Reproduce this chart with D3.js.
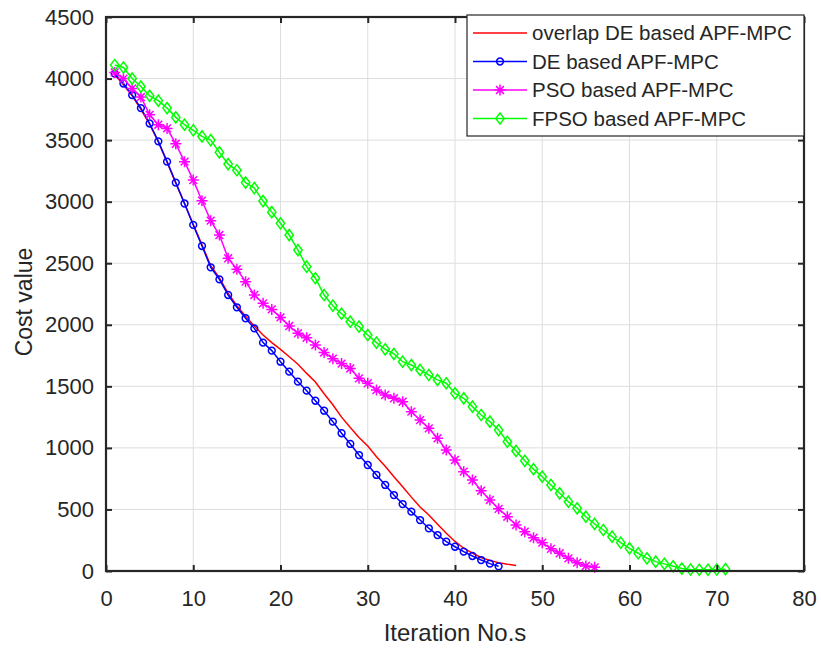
<!DOCTYPE html>
<html>
<head>
<meta charset="utf-8">
<script src="https://cdn.jsdelivr.net/npm/d3@7"></script>
<style>
  body { margin: 0; background: #fff; }
  text { font-family: "Liberation Sans", Arial, sans-serif; fill: #262626; }
</style>
</head>
<body>
<div id="chart"></div>
<script>
// ---------------- data ----------------
const seriesNames = ["overlap DE based APF-MPC", "DE based APF-MPC", "PSO based APF-MPC", "FPSO based APF-MPC"];

const overlapDE = [4030, 3950, 3860, 3750, 3630, 3485, 3320, 3150, 2985, 2815,
  2650, 2480, 2380, 2255, 2155, 2070, 1990, 1917, 1855, 1800,
  1740, 1680, 1605, 1535, 1440, 1350, 1250, 1165, 1085, 1015,
  928, 850, 765, 685, 600, 520, 455, 380, 306, 240,
  185, 145, 110, 85, 68, 55, 45];

const deAPF = [4040, 3960, 3865, 3760, 3635, 3490, 3325, 3155, 2985, 2811,
  2640, 2467, 2369, 2242, 2142, 2053, 1971, 1855, 1790, 1700,
  1619, 1538, 1465, 1383, 1302, 1213, 1119, 1032, 942, 861,
  780, 699, 617, 544, 482, 414, 347, 292, 238, 197,
  157, 122, 89, 60, 38];

const psoAPF = [4050, 4000, 3920, 3850, 3705, 3625, 3595, 3470, 3325, 3175,
  3008, 2846, 2729, 2540, 2451, 2350, 2242, 2174, 2125, 2060,
  1990, 1931, 1895, 1836, 1775, 1725, 1685, 1645, 1565, 1525,
  1470, 1430, 1403, 1375, 1294, 1226, 1159, 1078, 983, 902,
  807, 739, 652, 577, 505, 441, 374, 319, 270, 230,
  180, 144, 103, 68, 41, 30];

const fpsoAPF = [4110, 4090, 4000, 3935, 3860, 3820, 3760, 3685, 3625, 3580,
  3530, 3500, 3400, 3305, 3255, 3155, 3110, 3005, 2915, 2824,
  2729, 2607, 2472, 2378, 2242, 2155, 2090, 2025, 1985, 1917,
  1855, 1801, 1763, 1700, 1673, 1633, 1592, 1552, 1525, 1443,
  1403, 1335, 1267, 1213, 1145, 1050, 975, 895, 827, 766,
  699, 631, 563, 509, 441, 382, 333, 279, 230, 184,
  144, 103, 76, 58, 38, 20, 12, 10, 10, 12, 15];

const xTicks = [0, 10, 20, 30, 40, 50, 60, 70, 80];
const yTicks = [0, 500, 1000, 1500, 2000, 2500, 3000, 3500, 4000, 4500];

// ---------------- layout ----------------
const W = 821, H = 648;
const margin = { top: 17, right: 17, bottom: 77, left: 106 };
const width = W - margin.left - margin.right;
const height = H - margin.top - margin.bottom;

const svg = d3.select("#chart").append("svg")
  .attr("width", W)
  .attr("height", H)
  .append("g")
  .attr("transform", `translate(${margin.left},${margin.top})`);

const xScale = d3.scaleLinear().domain([0, 80]).range([0, width]);
const yScale = d3.scaleLinear().domain([0, 4500]).range([height, 0]);

// grid
svg.append("g").selectAll("line").data(xTicks.slice(1, -1)).join("line")
  .attr("x1", d => xScale(d)).attr("x2", d => xScale(d))
  .attr("y1", 0).attr("y2", height)
  .attr("stroke", "#dedede").attr("stroke-width", 1);
svg.append("g").selectAll("line").data(yTicks.slice(1, -1)).join("line")
  .attr("x1", 0).attr("x2", width)
  .attr("y1", d => yScale(d)).attr("y2", d => yScale(d))
  .attr("stroke", "#dedede").attr("stroke-width", 1);

// ---------------- series ----------------
const series = [
  { name: seriesNames[0], values: overlapDE, color: "#ff0000", marker: null },
  { name: seriesNames[1], values: deAPF, color: "#0000ff", marker: "circle" },
  { name: seriesNames[2], values: psoAPF, color: "#ff00ff", marker: "star" },
  { name: seriesNames[3], values: fpsoAPF, color: "#00ff00", marker: "diamond" }
];

const line = d3.line()
  .x((d, i) => xScale(i + 1))
  .y(d => yScale(d));

// marker shapes as path strings centred on 0,0
function markerPath(type) {
  if (type === "circle") {
    const r = 3.4;
    return `M${-r},0A${r},${r} 0 1,0 ${r},0A${r},${r} 0 1,0 ${-r},0Z`;
  }
  if (type === "star") {
    const s = 5.5, d = 3.9;
    return `M${-s},0L${s},0M0,${-s}L0,${s}M${-d},${-d}L${d},${d}M${-d},${d}L${d},${-d}`;
  }
  if (type === "diamond") {
    const w = 4.2, h = 5.6;
    return `M0,${-h}L${w},0L0,${h}L${-w},0Z`;
  }
  return "";
}

series.forEach(s => {
  svg.append("path")
    .datum(s.values)
    .attr("fill", "none")
    .attr("stroke", s.color)
    .attr("stroke-width", 1.5)
    .attr("d", line);

  if (s.marker) {
    svg.append("g").selectAll("path")
      .data(s.values)
      .join("path")
      .attr("transform", (d, i) => `translate(${xScale(i + 1)},${yScale(d)})`)
      .attr("d", markerPath(s.marker))
      .attr("fill", "none")
      .attr("stroke", s.color)
      .attr("stroke-width", 1.5);
  }
});

// ---------------- axes ----------------
const axisColor = "#262626";
const fmt = d3.format("d");

const xAxis = svg.append("g")
  .attr("transform", `translate(0,${height})`)
  .call(d3.axisBottom(xScale).tickValues(xTicks).tickFormat(fmt).tickSize(-6).tickPadding(19));
const yAxis = svg.append("g")
  .call(d3.axisLeft(yScale).tickValues(yTicks).tickFormat(fmt).tickSize(-6).tickPadding(12));
const xTop = svg.append("g")
  .call(d3.axisTop(xScale).tickValues(xTicks).tickSize(-6).tickFormat(""));
const yRight = svg.append("g")
  .attr("transform", `translate(${width},0)`)
  .call(d3.axisRight(yScale).tickValues(yTicks).tickSize(-6).tickFormat(""));

[xAxis, yAxis, xTop, yRight].forEach(a => {
  a.select(".domain").remove();
  a.selectAll(".tick line").attr("stroke", axisColor).attr("stroke-width", 2);
  a.selectAll(".tick text")
    .style("font-size", "22px")
    .style("font-family", "'Liberation Sans', Arial, sans-serif")
    .attr("fill", axisColor);
});

svg.append("rect")
  .attr("x", 0).attr("y", 0)
  .attr("width", width).attr("height", height)
  .attr("fill", "none")
  .attr("stroke", axisColor)
  .attr("stroke-width", 2.2);

// axis labels
svg.append("text")
  .attr("x", width / 2)
  .attr("y", height + 70)
  .attr("text-anchor", "middle")
  .style("font-size", "24px")
  .text("Iteration No.s");

svg.append("text")
  .attr("transform", `translate(${32 - margin.left},${285}) rotate(-90)`)
  .attr("text-anchor", "middle")
  .style("font-size", "23px")
  .text("Cost value");

// ---------------- legend ----------------
const legend = svg.append("g")
  .attr("transform", `translate(${467 - margin.left},${15 - margin.top})`);

legend.append("rect")
  .attr("width", 337)
  .attr("height", 121)
  .attr("fill", "#fff")
  .attr("stroke", axisColor)
  .attr("stroke-width", 1.2);

series.forEach((s, i) => {
  const row = legend.append("g")
    .attr("transform", `translate(0, ${18 + i * 28.5})`);
  row.append("line")
    .attr("x1", 6).attr("x2", 60)
    .attr("stroke", s.color)
    .attr("stroke-width", 1.5);
  if (s.marker) {
    row.append("path")
      .attr("transform", "translate(33,0)")
      .attr("d", markerPath(s.marker))
      .attr("fill", "none")
      .attr("stroke", s.color)
      .attr("stroke-width", 1.5);
  }
  row.append("text")
    .attr("x", 65)
    .attr("y", 7)
    .style("font-size", "20.5px")
    .text(s.name);
});
</script>
</body>
</html>
